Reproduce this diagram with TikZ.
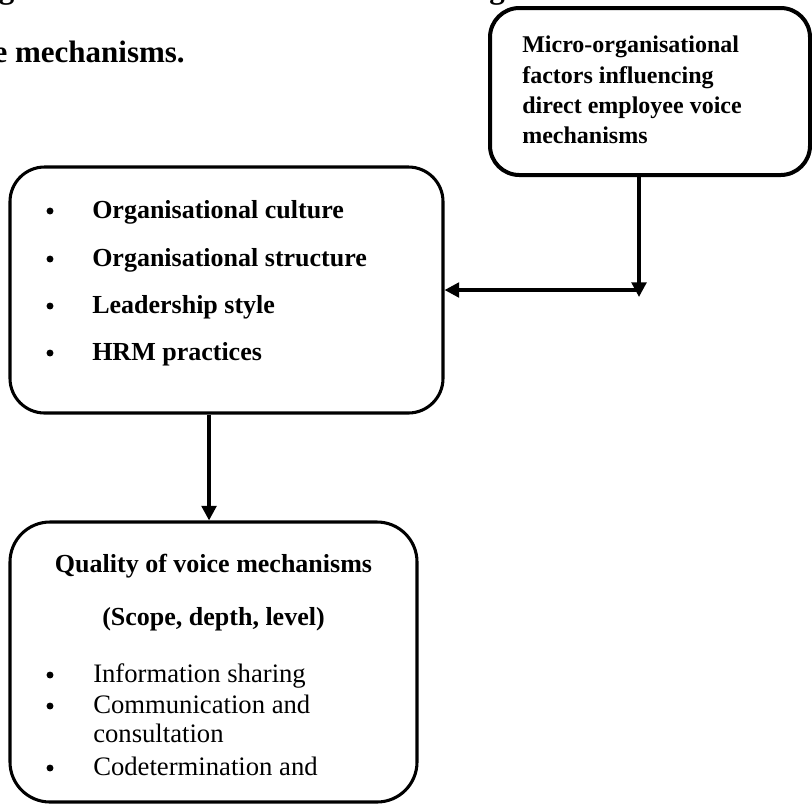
\documentclass[tikz,border=0pt]{standalone}
\usepackage{fontspec}
\setmainfont{Liberation Serif}
\usetikzlibrary{arrows.meta}
\begin{document}
\begin{tikzpicture}[x=0.75pt,y=-0.75pt,
  box/.style={draw, line width=2.3pt, inner sep=0pt},
  link/.style={line width=2.6pt, -{Triangle[length=11pt,width=11pt]}},
  captiontext/.style={inner sep=0pt, font=\fontsize{23.25}{28}\selectfont\bfseries},
  headline/.style={inner sep=0pt, anchor=base west, font=\fontsize{18}{22}\selectfont\bfseries},
  bolditem/.style={inner sep=0pt, anchor=base west, font=\fontsize{19.5}{23}\selectfont\bfseries},
  plainitem/.style={inner sep=0pt, anchor=base west, font=\fontsize{20}{24}\selectfont},
  boldcentre/.style={inner sep=0pt, anchor=base, font=\fontsize{19.5}{23}\selectfont\bfseries},
  dot/.style={circle, fill, inner sep=0pt, minimum size=5.2pt}
]
\useasboundingbox (0,0) rectangle (812,804);
\clip (0,0) rectangle (812,804);

% caption (runs past the edges of the page)
\node[captiontext, anchor=south west] (cap1) at (-29,6) {Figure 2.1: Framework of the micro-organisational factors influencing direct employee};
\node[captiontext, anchor=base east] (cap2) at (185,62) {voice mechanisms.};

% boxes
\node[box, line width=3pt, rounded corners=22pt, minimum width=240pt, minimum height=125.25pt] (micro) at (650,91.5) {};
\node[box, rounded corners=26pt, minimum width=324.75pt, minimum height=184.5pt] (factors) at (226.5,290) {};
\node[box, rounded corners=30pt, minimum width=305.25pt, minimum height=210pt] (quality) at (213.5,662) {};

% micro-organisational factors
\node[headline] (m1) at (522,52) {Micro-organisational};
\node[headline] (m2) at (522,83) {factors influencing};
\node[headline] (m3) at (522,113) {direct employee voice};
\node[headline] (m4) at (522,143) {mechanisms};

% factor list
\node[dot] (fb1) at (50,211) {};
\node[bolditem] (f1) at (92,218) {Organisational culture};
\node[dot] (fb2) at (50,259) {};
\node[bolditem] (f2) at (92,266) {Organisational structure};
\node[dot] (fb3) at (50,306) {};
\node[bolditem] (f3) at (92,313) {Leadership style};
\node[dot] (fb4) at (50,353) {};
\node[bolditem] (f4) at (92,360) {HRM practices};

% quality of voice mechanisms
\node[boldcentre] (q1) at (213.5,572) {Quality of voice mechanisms};
\node[boldcentre] (q2) at (213.5,625) {(Scope, depth, level)};
\node[dot] (qb1) at (50,675) {};
\node[plainitem] (q3) at (93,682) {Information sharing};
\node[dot] (qb2) at (50,706) {};
\node[plainitem] (q4) at (93,713) {Communication and};
\node[plainitem] (q5) at (93,742) {consultation};
\node[dot] (qb3) at (50,768) {};
\node[plainitem] (q6) at (93,775) {Codetermination and};

% connectors
\coordinate (bend) at (639,290);
\coordinate (bendtip) at (639,297);
\draw[link] (micro.south -| bend) -- (bendtip);
\draw[link] (bend) -- (factors.east);
\draw[link] ([xshift=-13.1pt]factors.south) -- ([xshift=-13.1pt]factors.south |- quality.north);
\end{tikzpicture}
\end{document}
